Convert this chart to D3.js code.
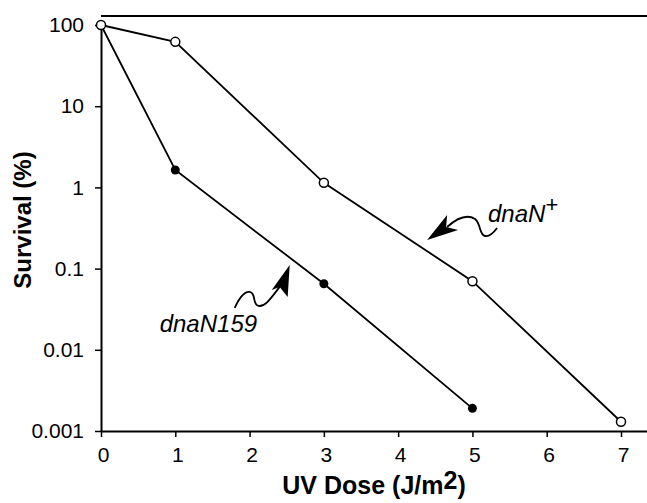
<!DOCTYPE html>
<html>
<head>
<meta charset="utf-8">
<script src="https://cdn.jsdelivr.net/npm/d3@7"></script>
<style>
body { margin: 0; background: #fff; }
text { font-family: "Liberation Sans", Arial, Helvetica, sans-serif; }
</style>
</head>
<body>
<div class="content"></div>
<script>
// UV survival, values
var doses = [0, 1, 3, 5, 7];
var wildType = [100, 62, 1.14, 0.07, 0.0013];   // dnaN+ (open)
var mutDoses = [0, 1, 3, 5];
var mutant = [100, 1.64, 0.065, 0.0019];         // dnaN159 (filled)
var xTicks = [0, 1, 2, 3, 4, 5, 6, 7];
var yTicks = [100, 10, 1, 0.1, 0.01, 0.001];
var yTickLabels = ["100", "10", "1", "0.1", "0.01", "0.001"];

var width = 647;
var height = 503;
var svg = d3.select(".content").append("svg").attr("width", width).attr("height", height);

var x = d3.scaleLinear().domain([0, 7.35]).range([101, 647]);
var y = d3.scaleLog().domain([0.001, 100]).range([431, 25]);

// frame: top line and axes
svg.append("path").attr("d", "M" + x(0) + "," + (y(100) - 9) + "L" + width + "," + (y(100) - 9))
  .attr("stroke", "black").attr("stroke-width", 2).attr("fill", "none");

var gx = svg.append("g").attr("transform", "translate(0," + y(0.001) + ")")
  .call(d3.axisBottom(x).tickValues(xTicks).tickSize(6).tickPadding(5).tickSizeOuter(0));
var gy = svg.append("g").attr("transform", "translate(" + x(0) + ",0)")
  .call(d3.axisLeft(y).tickValues(yTicks).tickFormat(function(d, i){ return yTickLabels[i]; })
    .tickSize(6).tickPadding(11).tickSizeOuter(0));
[gx, gy].forEach(function(g){
  g.select(".domain").attr("stroke-width", 2);
  g.selectAll(".tick line").attr("stroke-width", 1.5);
  g.selectAll("text").attr("font-size", 21).attr("fill", "black")
    .style("font-family", "'Liberation Sans', Arial, sans-serif");
});
gx.selectAll("text").attr("dy", "0.95em").attr("dx", 2);

// axis titles
var xt = svg.append("text").attr("x", 374).attr("y", 494).attr("text-anchor", "middle")
  .attr("font-size", 25).attr("font-weight", "bold").text("UV Dose (J/m");
xt.append("tspan").attr("dy", -5).text("2");
xt.append("tspan").attr("dy", 5).text(")");

svg.append("text").attr("transform", "translate(31,220) rotate(-90)").attr("text-anchor", "middle")
  .attr("font-size", 24).attr("font-weight", "bold").text("Survival (%)");

// lines
var line = d3.line().x(function(d){ return x(d[0]); }).y(function(d){ return y(d[1]); });
var wt = doses.map(function(d, i){ return [d, wildType[i]]; });
var mu = mutDoses.map(function(d, i){ return [d, mutant[i]]; });

svg.append("path").data([mu]).attr("d", line).attr("stroke", "black").attr("stroke-width", 1.8).attr("fill", "none");
svg.append("path").data([wt]).attr("d", line).attr("stroke", "black").attr("stroke-width", 1.8).attr("fill", "none");

svg.selectAll(".mu").data(mu.slice(1)).enter().append("circle")
  .attr("cx", function(d){ return x(d[0]); }).attr("cy", function(d){ return y(d[1]); })
  .attr("r", 4.5).attr("fill", "black");
svg.selectAll(".wt").data(wt).enter().append("circle")
  .attr("cx", function(d){ return x(d[0]); }).attr("cy", function(d){ return y(d[1]); })
  .attr("r", 4.5).attr("fill", "white").attr("stroke", "black").attr("stroke-width", 1.5);

// annotations: label anchor and arrow tip, in data units
var labels = [
  { name: "dnaN", sup: "+", lx: 5.21, ly: 0.375, tx: 4.39, ty: 0.225,
    head: "M0,0L20,-25L19,-13L31,-10Z",
    tail: "M20,-13C30,-22 40,-26 48,-21C54,-16 52,-5 58,-4C63,-3 67,-8 70,-12" },
  { name: "dnaN159", sup: "", lx: 0.79, ly: 0.0166, tx: 2.54, ty: 0.111,
    head: "M0,0L-18,25L-10,22L-2,32Z",
    tail: "M-10,22C-18,32 -24,42 -31,41C-38,40 -33,28 -40,27C-46,26 -52,36 -55,43" }
];
labels.forEach(function(a){
  var t = svg.append("text").attr("x", x(a.lx)).attr("y", y(a.ly))
    .attr("font-size", 24).attr("font-style", "italic").text(a.name);
  if (a.sup) t.append("tspan").attr("dy", -10).attr("font-size", 22).attr("font-style", "normal").text(a.sup);
  var g = svg.append("g").attr("transform", "translate(" + x(a.tx) + "," + y(a.ty) + ")");
  g.append("path").attr("d", a.head).attr("fill", "black");
  g.append("path").attr("d", a.tail).attr("fill", "none").attr("stroke", "black").attr("stroke-width", 1.8);
});
</script>
</body>
</html>
